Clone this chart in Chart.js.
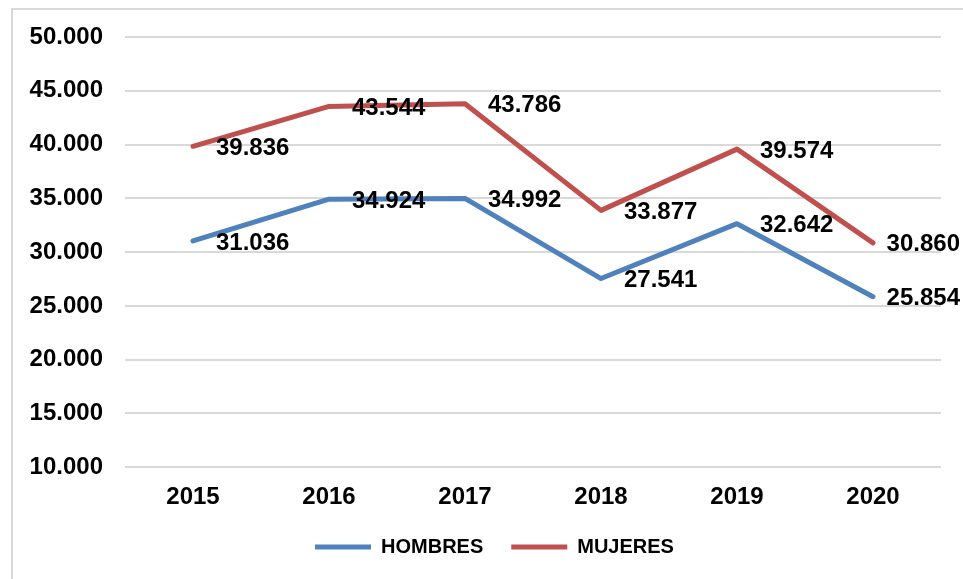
<!DOCTYPE html>
<html>
<head>
<meta charset="utf-8">
<script src="https://cdn.jsdelivr.net/npm/chart.js@4.4.1/dist/chart.umd.min.js"></script>
<style>
  html, body { margin: 0; padding: 0; background: #fff; }
  #frame { position: absolute; left: 11px; top: 8px; width: 1000px; height: 700px; border: 2px solid #D9D9D9; box-sizing: border-box; }
  #wrap { position: absolute; left: 0; top: 0; width: 963px; height: 579px; }
</style>
</head>
<body>
<div id="frame"></div>
<div id="wrap"><canvas id="lineChart"></canvas></div>
<script>
var years = ["2015", "2016", "2017", "2018", "2019", "2020"];
var hombres = [31036, 34924, 34992, 27541, 32642, 25854];
var mujeres = [39836, 43544, 43786, 33877, 39574, 30860];
var yTicks = [10000, 15000, 20000, 25000, 30000, 35000, 40000, 45000, 50000];

var FONT = "'Liberation Sans', Arial, sans-serif";

function fmt(v) {
  return String(v).replace(/\B(?=(\d{3})+(?!\d))/g, ".");
}

// etiquetas de datos a la derecha de cada punto
var dataLabels = {
  id: "dataLabels",
  afterDatasetsDraw: function (chart) {
    var ctx = chart.ctx;
    ctx.save();
    ctx.font = "bold 24px " + FONT;
    ctx.fillStyle = "#000";
    ctx.textAlign = "left";
    ctx.textBaseline = "middle";
    chart.data.datasets.forEach(function (ds, i) {
      chart.getDatasetMeta(i).data.forEach(function (pt, j) {
        var txt = fmt(ds.data[j]);
        var x = pt.x + 23;
        var w = ctx.measureText(txt).width;
        // no salir del lienzo
        if (x + w > chart.width - 3) x = chart.width - 3 - w;
        ctx.fillText(txt, x, pt.y + 2);
      });
    });
    ctx.restore();
  }
};

var chartElement = document.getElementById("lineChart");

if (chartElement) {
  var ctx = chartElement.getContext("2d");
  var lineChart = new Chart(ctx, {
    type: "line",
    data: {
      labels: years,
      datasets: [
        {
          label: "HOMBRES",
          data: hombres,
          borderColor: "#4F81BD",
          backgroundColor: "#4F81BD",
          borderWidth: 5,
          borderCapStyle: "round",
          borderJoinStyle: "round",
          pointRadius: 0,
          tension: 0,
        },
        {
          label: "MUJERES",
          data: mujeres,
          borderColor: "#C0504D",
          backgroundColor: "#C0504D",
          borderWidth: 5,
          borderCapStyle: "round",
          borderJoinStyle: "round",
          pointRadius: 0,
          tension: 0,
        },
      ],
    },
    options: {
      responsive: true,
      maintainAspectRatio: false,
      animation: false,
      layout: { padding: { left: 48, right: 22, top: 37, bottom: 12 } },
      scales: {
        x: {
          offset: true,
          afterFit: function (s) { s.height -= 11; },
          grid: { display: false },
          border: { display: false },
          ticks: { color: "#000", padding: 8, font: { family: FONT, size: 24, weight: "bold" } },
        },
        y: {
          min: 10000,
          max: 50000,
          afterFit: function (s) {
            s.width = 77;
            s._computeLabelArea = function () { return undefined; };
          },
          afterBuildTicks: function (s) { s.ticks = yTicks.map(function (v) { return { value: v }; }); },
          grid: { color: "#D9D9D9", lineWidth: 2, drawTicks: false },
          border: { display: false },
          ticks: {
            color: "#000",
            padding: 22,
            font: { family: FONT, size: 24, weight: "bold" },
            callback: function (v) { return fmt(v); },
          },
        },
      },
      plugins: {
        tooltip: { enabled: false },
        legend: {
          position: "bottom",
          labels: {
            color: "#000",
            font: { family: FONT, size: 20, weight: "bold" },
            usePointStyle: true,
            pointStyle: "line",
            pointStyleWidth: 56,
            boxHeight: 20,
            padding: 28,
          },
        },
      },
    },
    plugins: [dataLabels],
  });
}
</script>
</body>
</html>
